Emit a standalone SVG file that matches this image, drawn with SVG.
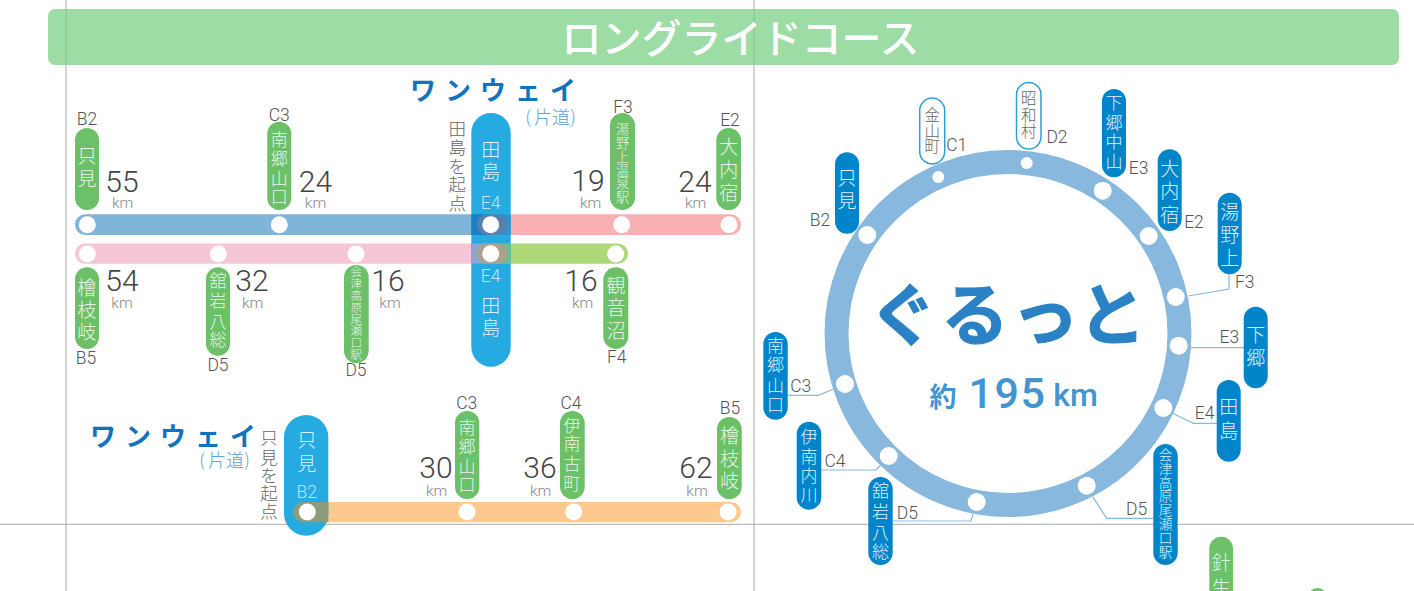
<svg xmlns="http://www.w3.org/2000/svg" width="1414" height="591" viewBox="0 0 1414 591">
<style>
text{font-family:"Noto Sans CJK JP","Noto Sans",sans-serif;text-anchor:middle}
.g{fill:#6cc067}.b{fill:#0085cb}.t{fill:#25aae1}
.j{font-weight:300;font-size:19px;fill:#e6f5ea}
.jb{font-weight:300;font-size:19px;fill:#dff1fb}
.f{font-size:17px}
.o{fill:#fff;stroke:#2a9fd8;stroke-width:1.5}
.oj{font-weight:300;font-size:15.5px;fill:#666}
.c{font-family:"Roboto","Liberation Sans",sans-serif;font-weight:300;font-size:17.5px;fill:#555}
.n{font-family:"Roboto","Liberation Sans",sans-serif;font-weight:300;font-size:30px;fill:#444}
.k{font-family:"Roboto","Liberation Sans",sans-serif;font-weight:300;font-size:15.5px;fill:#888}
.s{font-weight:300;font-size:17.5px;fill:#666}
.w{font-weight:700;font-size:26px;fill:#1273bd}
.p{font-weight:300;font-size:18px;fill:#5ba3d9}
.d{fill:#fff}
.l{fill:none;stroke:#88b8dd;stroke-width:1.2}
</style>
<g id="guides">
<path d="M66 0V591M754 0V591" stroke="#c8c8c8" stroke-width="1.5" fill="none"/>
<path d="M0 524.3H1414" stroke="#aaa" stroke-width="1" fill="none"/>
</g>
<g id="header">
<rect x="48" y="9" width="1351" height="56" rx="7" fill="#78cf82" fill-opacity=".72"/>
<text x="740.5" y="53" font-size="40" font-weight="500" fill="#fff">ロングライドコース</text>
</g>
<g id="connectors">
<rect x="75" y="214.3" width="420" height="20.7" rx="10.3" fill="#80b5da"/>
<rect x="487" y="214.3" width="254" height="20.7" rx="10.3" fill="#f9b0b3"/>
<rect x="75" y="243.5" width="420" height="20.2" rx="10.1" fill="#f6c6d7"/>
<rect x="487" y="243.5" width="141" height="20.2" rx="10.1" fill="#aed777"/>
<rect x="293" y="502" width="448" height="20.3" rx="10.1" fill="#fdc98e"/>
<circle cx="1008" cy="333.5" r="171.5" fill="none" stroke="#88b8dd" stroke-width="24"/>
<path class="l" d="M1229 274V289L1188.3 296"/>
<path class="l" d="M1190.7 347.7H1244"/>
<path class="l" d="M1172.7 413.3L1193.3 423.3H1217"/>
<path class="l" d="M1092.7 496.7L1106.7 518.3H1153"/>
<path class="l" d="M787.3 395.3H818.3L833.3 389.3"/>
<path class="l" d="M821 470H876L880.7 465"/>
<path class="l" d="M892.7 521H971L973.3 512.7"/>
</g>
<g id="tajima-hub">
<rect class="t" x="471.3" y="113" width="39.4" height="253.7" rx="19.7"/>
<rect x="471.3" y="214.3" width="20" height="20.7" fill="#1b80c2"/>
<rect x="491" y="214.3" width="19.7" height="20.7" fill="#2f93cf"/>
<rect x="477" y="214.3" width="30" height="20.7" rx="10.3" fill="#5580b0"/>
<rect x="471.3" y="243.5" width="20" height="20.2" fill="#8aa6cf"/>
<rect x="491" y="243.5" width="19.7" height="20.2" fill="#6fbb93"/>
<rect x="477" y="243.5" width="30" height="20.2" rx="10.1" fill="#aaa28c"/>
<circle class="d" cx="490.7" cy="224.7" r="8.5"/>
<circle class="d" cx="490.7" cy="253.7" r="8.5"/>
<text class="jb" x="490.7 490.7" y="157 179">田島</text>
<text class="c" x="490.7" y="209" style="fill:#bfe4f6">E4</text>
<text class="c" x="490.7" y="282" style="fill:#bfe4f6">E4</text>
<text class="jb" x="490.7 490.7" y="313 335">田島</text>
<text class="s" x="457.3 457.3 457.3 457.3 457.3" y="134.5 153.5 172.5 190.5 209.5">田島を起点</text>
<text class="w" x="423 458 493 528 563" y="100">ワンウェイ</text>
<text class="p" x="528 543 561 573" y="124">(片道)</text>
</g>
<g id="tadami-hub">
<rect class="t" x="284" y="415" width="44.3" height="120.7" rx="22.1"/>
<rect x="293" y="502" width="35.3" height="20.3" rx="10.1" fill="#8d9c7d"/>
<rect x="319" y="502" width="9.3" height="20.3" fill="#8d9c7d"/>
<circle class="d" cx="307.3" cy="512" r="8.5"/>
<text class="jb" x="306.7 306.7" y="447 471">只見</text>
<text class="c" x="306.7" y="497.7" style="fill:#bfe4f6">B2</text>
<text class="s" x="269 269 269 269 269" y="443.5 463.5 481.5 499.5 517.5">只見を起点</text>
<text class="w" x="103 138 173 208 243" y="446">ワンウェイ</text>
<text class="p" x="202 217 235 247" y="467.3">(片道)</text>
</g>
<g id="n-tadami">
<rect class="g" x="75" y="128" width="24" height="82" rx="12"/><circle class="d" cx="87.3" cy="224.7" r="8.5"/>
<text class="j" x="87 87" y="162.5 185.5">只見</text><text class="c" x="87" y="125">B2</text>
<text class="n" x="122" y="191.7">55</text><text class="k" x="122.7" y="208">km</text>
</g>
<g id="n-minamigo">
<rect class="g" x="267.3" y="121.7" width="24" height="88.3" rx="12"/><circle class="d" cx="279.3" cy="224.7" r="8.5"/>
<text class="j f" x="279.3 279.3 279.3 279.3" y="146 165 185 203">南郷山口</text><text class="c" x="279.3" y="121">C3</text>
<text class="n" x="315.5" y="191.7">24</text><text class="k" x="315.5" y="208">km</text>
</g>
<g id="n-yunokami">
<rect class="g" x="610" y="113" width="25" height="97" rx="12.5"/><circle class="d" cx="621.7" cy="224.7" r="8.5"/>
<text class="j" style="font-size:13.2px" x="622.5 622.5 622.5 622.5 622.5 622.5" y="134 148 162 175 188 202">湯野上温泉駅</text><text class="c" x="623" y="113">F3</text>
<text class="n" x="588" y="190.7">19</text><text class="k" x="590.7" y="208">km</text>
</g>
<g id="n-ouchijuku">
<rect class="g" x="716.3" y="128" width="24.7" height="82" rx="12.3"/><circle class="d" cx="729" cy="224.7" r="8.5"/>
<text class="j" x="728.7 728.7 728.7" y="153.5 176.5 199.5">大内宿</text><text class="c" x="730" y="126">E2</text>
<text class="n" x="695" y="191.7">24</text><text class="k" x="695.7" y="208">km</text>
</g>
<g id="n-hinoemata">
<rect class="g" x="75" y="267.3" width="24" height="81.7" rx="12"/><circle class="d" cx="87.3" cy="254" r="8.5"/>
<text class="j" x="86.7 86.7 86.7" y="294.5 316.5 338.5">檜枝岐</text><text class="c" x="86" y="364">B5</text>
<text class="n" x="122" y="290.7">54</text><text class="k" x="122" y="308">km</text>
</g>
<g id="n-tateiwa">
<rect class="g" x="206" y="267.3" width="24" height="88.4" rx="12"/><circle class="d" cx="218.3" cy="254" r="8.5"/>
<text class="j f" x="218 218 218 218" y="287 307 328 346">舘岩八総</text><text class="c" x="218" y="370.7">D5</text>
<text class="n" x="252" y="290.7">32</text><text class="k" x="252.7" y="308">km</text>
</g>
<g id="n-aizukogen">
<rect class="g" x="344" y="265" width="24.7" height="98" rx="12.3"/><circle class="d" cx="356" cy="254" r="8.5"/>
<text class="j" style="font-size:11.6px" x="356.3 356.3 356.3 356.3 356.3 356.3 356.3 356.3" y="276 288 300 312 323.5 335 347 358.5">会津高原尾瀬口駅</text><text class="c" x="356" y="376">D5</text>
<text class="n" x="388" y="290.7">16</text><text class="k" x="390" y="308">km</text>
</g>
<g id="n-kannonnuma">
<rect class="g" x="603.3" y="267.3" width="25" height="81.7" rx="12.5"/><circle class="d" cx="615.7" cy="254" r="8.5"/>
<text class="j" x="616 616 616" y="292.5 314.5 337.5">観音沼</text><text class="c" x="616.7" y="363">F4</text>
<text class="n" x="581" y="290.7">16</text><text class="k" x="582.7" y="308">km</text>
</g>
<g id="n2-minamigo">
<rect class="g" x="455" y="411" width="24.3" height="88" rx="12"/><circle class="d" cx="467" cy="512" r="8.5"/>
<text class="j f" x="467 467 467 467" y="434 453 473 491">南郷山口</text><text class="c" x="466.7" y="409">C3</text>
<text class="n" x="436" y="478">30</text><text class="k" x="436.7" y="496">km</text>
</g>
<g id="n2-inan">
<rect class="g" x="560" y="411" width="24.7" height="88" rx="12.3"/><circle class="d" cx="573.7" cy="512" r="8.5"/>
<text class="j f" x="572 572 572 572" y="431.7 450 470 490">伊南古町</text><text class="c" x="571" y="409">C4</text>
<text class="n" x="540" y="478">36</text><text class="k" x="540.7" y="496">km</text>
</g>
<g id="n2-hinoemata">
<rect class="g" x="717" y="417" width="24.7" height="82" rx="12.3"/><circle class="d" cx="728" cy="512" r="8.5"/>
<text class="j" x="729.5 729.5 729.5" y="443 465.5 487.5">檜枝岐</text><text class="c" x="730" y="414">B5</text>
<text class="n" x="696" y="478">62</text><text class="k" x="697" y="496">km</text>
</g>
<g id="loop-center">
<text x="903 975 1045 1112" y="340" font-size="68" font-weight="700" fill="#2a82c4" stroke="#2a82c4" stroke-width="1">ぐるっと</text>
<text x="943" y="406.5" font-size="27" font-weight="700" fill="#4295d0">約</text>
<text x="1007.5" y="408" font-size="43" font-weight="500" letter-spacing="1.5" fill="#4295d0" style="font-family:Roboto,'Liberation Sans',sans-serif">195</text>
<text x="1075.5" y="406" font-size="32" font-weight="500" fill="#4295d0" style="font-family:Roboto,'Liberation Sans',sans-serif">km</text>
</g>
<g id="r-tadami"><rect class="b" x="835" y="152.3" width="24" height="81.4" rx="12"/><circle class="d" cx="867.3" cy="235" r="9"/><text class="jb" x="847 847" y="184.5 207.5">只見</text><text class="c" x="820" y="225.7">B2</text></g>
<g id="r-kaneyama"><rect class="o" x="919.7" y="98" width="25" height="66" rx="12.5"/><circle class="d" cx="938.3" cy="177" r="6"/><text class="oj" x="932.3 932.3 932.3" y="121 136.5 152">金山町</text><text class="c" x="956.7" y="151">C1</text></g>
<g id="r-showa"><rect class="o" x="1016.5" y="82.5" width="24.5" height="66.5" rx="12.2"/><circle class="d" cx="1026.7" cy="163" r="6"/><text class="oj" x="1028.7 1028.7 1028.7" y="104 120.5 137">昭和村</text><text class="c" x="1057" y="143">D2</text></g>
<g id="r-shimogonaka"><rect class="b" x="1102" y="89" width="24" height="88.3" rx="12"/><circle class="d" cx="1102.7" cy="190.7" r="9"/><text class="jb f" x="1114 1114 1114 1114" y="109 128.7 147.7 167.7">下郷中山</text><text class="c" x="1138.7" y="173.7">E3</text></g>
<g id="r-ouchi"><rect class="b" x="1157.7" y="149.3" width="24" height="81.7" rx="12"/><circle class="d" cx="1148.7" cy="236" r="9"/><text class="jb" x="1169.7 1169.7 1169.7" y="175.5 198 221.5">大内宿</text><text class="c" x="1194" y="227.7">E2</text></g>
<g id="r-yunokami"><rect class="b" x="1217.7" y="192.7" width="24" height="81.6" rx="12"/><circle class="d" cx="1175.7" cy="297" r="9"/><text class="jb" x="1229.7 1229.7 1229.7" y="218.5 241.5 264.5">湯野上</text><text class="c" x="1244.7" y="288">F3</text></g>
<g id="r-shimogo"><rect class="b" x="1243.7" y="306.7" width="24" height="81.6" rx="12"/><circle class="d" cx="1178.7" cy="345.7" r="9"/><text class="jb" x="1255.7 1255.7" y="341.5 364.5">下郷</text><text class="c" x="1229.3" y="342.7">E3</text></g>
<g id="r-tajima"><rect class="b" x="1216.7" y="380" width="24" height="81.7" rx="12"/><circle class="d" cx="1163.3" cy="408" r="9"/><text class="jb" x="1228.7 1228.7" y="414 438">田島</text><text class="c" x="1204.7" y="419.3">E4</text></g>
<g id="r-aizu"><rect class="b" x="1153.3" y="444" width="24.4" height="121" rx="12.2"/><circle class="d" cx="1086.7" cy="485.7" r="9"/><text class="jb" style="font-size:13.6px" x="1165.5 1165.5 1165.5 1165.5 1165.5 1165.5 1165.5 1165.5" y="460 473.8 487.6 501.4 515.2 529 542.8 556.6">会津高原尾瀬口駅</text><text class="c" x="1136.7" y="515">D5</text></g>
<g id="r-tateiwa"><rect class="b" x="868.3" y="477" width="24.4" height="88" rx="12.2"/><circle class="d" cx="976.7" cy="502" r="9"/><text class="jb f" x="880.5 880.5 880.5 880.5" y="497 517.7 539.3 557.7">舘岩八総</text><text class="c" x="907.3" y="518.7">D5</text></g>
<g id="r-inan"><rect class="b" x="796.7" y="421.7" width="24.6" height="88" rx="12.3"/><circle class="d" cx="888.7" cy="456" r="9"/><text class="jb f" x="809 809 809 809" y="442.7 462.7 482 501">伊南内川</text><text class="c" x="835" y="466.7">C4</text></g>
<g id="r-minamigo"><rect class="b" x="763.3" y="332" width="24.4" height="87.7" rx="12.2"/><circle class="d" cx="845" cy="384" r="9"/><text class="jb f" x="775.5 775.5 775.5 775.5" y="352 371 392 411">南郷山口</text><text class="c" x="800.7" y="391.7">C3</text></g>
<g id="r-harinyu"><rect class="g" x="1209.3" y="536.7" width="23.7" height="80" rx="11.8"/><text class="j" x="1221.2 1221.2" y="569.5 594.5">針生</text></g>
<g id="r-cutoff"><rect class="g" x="1308" y="588" width="19" height="30" rx="9.5"/></g>
</svg>
